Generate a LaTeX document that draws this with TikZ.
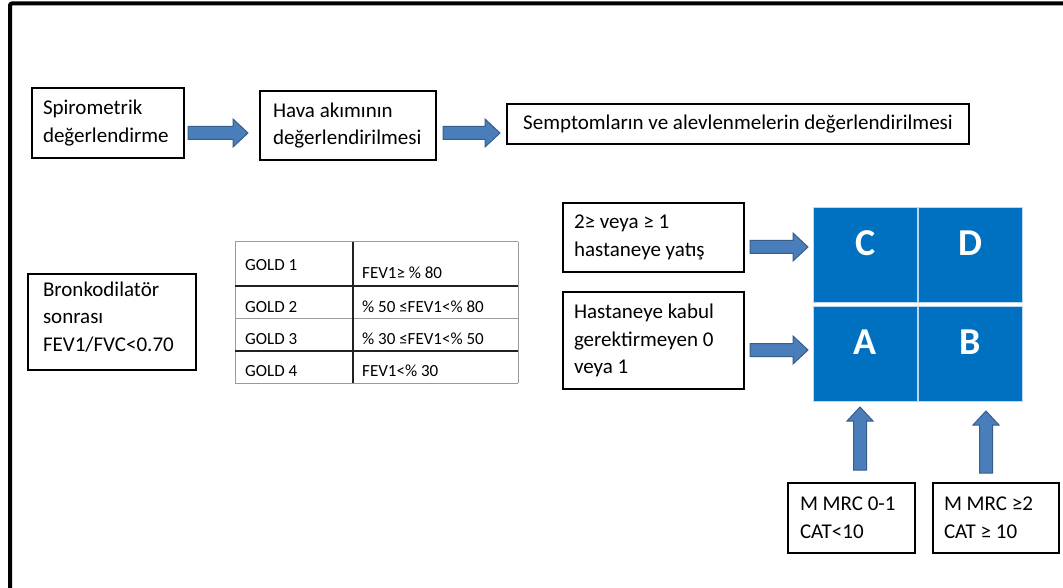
\documentclass[tikz,border=0pt]{standalone}
\usepackage{fontspec}
\setmainfont{Carlito}
\usetikzlibrary{calc}
\definecolor{cellblue}{HTML}{0070C0}
\definecolor{celledge}{HTML}{BDD7EE}
\definecolor{arrowblue}{HTML}{4A7EBB}
\definecolor{arrowedge}{HTML}{385D8A}
\definecolor{gridgray}{HTML}{9A9A9A}
\definecolor{griddark}{HTML}{222222}
\newcommand\hblockarrow[2]{%
  \path[blockarrow] let \p1=#1, \p2=#2 in
    (\x1,\y1+6.5pt) -- (\x2-15pt,\y1+6.5pt) -- (\x2-15pt,\y1+14pt) -- (\x2,\y1)
    -- (\x2-15pt,\y1-14pt) -- (\x2-15pt,\y1-6.5pt) -- (\x1,\y1-6.5pt) -- cycle;}
\newcommand\vblockarrow[2]{%
  \path[blockarrow] let \p1=#1, \p2=#2 in
    (\x1-6.5pt,\y1) -- (\x1-6.5pt,\y2-14pt) -- (\x1-13pt,\y2-14pt) -- (\x1,\y2)
    -- (\x1+13pt,\y2-14pt) -- (\x1+6.5pt,\y2-14pt) -- (\x1+6.5pt,\y1) -- cycle;}
\begin{document}
\begin{tikzpicture}[x=1pt,y=-1pt,
  box/.style={draw=black,line width=2pt,inner sep=0pt,anchor=north west,
    align=flush left,font=\fontsize{21}{27.5}\selectfont},
  cell/.style={fill=cellblue,draw=celledge,line width=1pt,anchor=north west,
    minimum width=104pt,minimum height=95pt,inner sep=0pt,text=white,
    font=\fontsize{38}{40}\selectfont\bfseries,text height=25pt,text depth=24pt},
  tabtext/.style={anchor=base west,inner sep=0pt,font=\fontsize{17}{20}\selectfont},
  blockarrow/.style={fill=arrowblue,draw=arrowedge,line width=1pt},
  thingrid/.style={draw=gridgray,line width=1pt},
  thickgrid/.style={draw=griddark,line width=1.8pt}]
\useasboundingbox (0,0) rectangle (1063,588);
\fill[white] (0,0) rectangle (1063,588);
% outer frame
\draw[line width=4pt,rounded corners=2pt] (10,588) -- (10,3.5) -- (1064,3.5);

% top row
\node[box,minimum width=152pt,minimum height=70pt,text width=130pt] (spiro) at (31,87)
  {Spirometrik\\değerlendirme};
\node[box,minimum width=176pt,minimum height=69pt,text width=150pt] (hava) at (259,90)
  {Hava akımının\\değerlendirilmesi};
\node[box,minimum width=462pt,minimum height=40pt] (sempt) at (506,103)
  {Semptomların ve alevlenmelerin değerlendirilmesi};
\coordinate (a1s) at (188,133); \coordinate (a1e) at (248,133);
\coordinate (a2s) at (443,133); \coordinate (a2e) at (500,133);
\hblockarrow{(a1s)}{(a1e)}
\hblockarrow{(a2s)}{(a2e)}

% left box
\node[box,minimum width=168pt,minimum height=96pt,text width=138pt] (bronko) at (27,273)
  {Bronkodilatör\\sonrası\\FEV1/FVC<0.70\par\kern10pt};

% table
\draw[thingrid] (235,242) -- (518,242);
\draw[thingrid] (235,318) -- (518,318);
\draw[thingrid] (235,383) -- (518,383);
\draw[thingrid] (235,242) -- (235,383);
\draw[thingrid] (518,242) -- (518,383);
\draw[thickgrid] (235,286) -- (518,286);
\draw[thickgrid] (235,351) -- (518,351);
\draw[thickgrid] (353,242) -- (353,383);
\node[tabtext] (g1) at (245,270) {GOLD 1};
\node[tabtext] (g2) at (245,312) {GOLD 2};
\node[tabtext] (g3) at (245,344) {GOLD 3};
\node[tabtext] (g4) at (245,376) {GOLD 4};
\node[tabtext] (v1) at (362,278) {FEV1≥ \% 80};
\node[tabtext] (v2) at (362,312) {\% 50 ≤FEV1<\% 80};
\node[tabtext] (v3) at (362,344) {\% 30 ≤FEV1<\% 50};
\node[tabtext] (v4) at (362,376) {FEV1<\% 30};

% right boxes
\node[box,minimum width=181pt,minimum height=69pt,text width=159pt] (yatis) at (562,202)
  {2≥ veya ≥ 1\\hastaneye~yatış};
\node[box,minimum width=181pt,minimum height=97pt,text width=159pt] (kabul) at (562,291)
  {Hastaneye~kabul\\gerektirmeyen~0\\veya~1};

% grid
\node[cell] (C) at (813,207) {C};
\node[cell] (D) at (918,207) {D};
\node[cell] (A) at (813,306) {A};
\node[cell] (B) at (918,306) {B};

\coordinate (a3s) at (750,247); \coordinate (a3e) at (808,247);
\coordinate (a4s) at (750,350); \coordinate (a4e) at (808,350);
\hblockarrow{(a3s)}{(a3e)}
\hblockarrow{(a4s)}{(a4e)}

% bottom boxes
\node[box,minimum width=127pt,minimum height=70pt,text width=103pt] (mmrc1) at (787,482)
  {M~MRC~0-1\\CAT<10};
\node[box,minimum width=126pt,minimum height=70pt,text width=104pt] (mmrc2) at (932,482)
  {M~MRC~≥2\\CAT~≥~10};
\coordinate (u1s) at (860,470); \coordinate (u1e) at (860,407);
\coordinate (u2s) at (986,473); \coordinate (u2e) at (986,411);
\vblockarrow{(u1s)}{(u1e)}
\vblockarrow{(u2s)}{(u2e)}
\end{tikzpicture}
\end{document}
